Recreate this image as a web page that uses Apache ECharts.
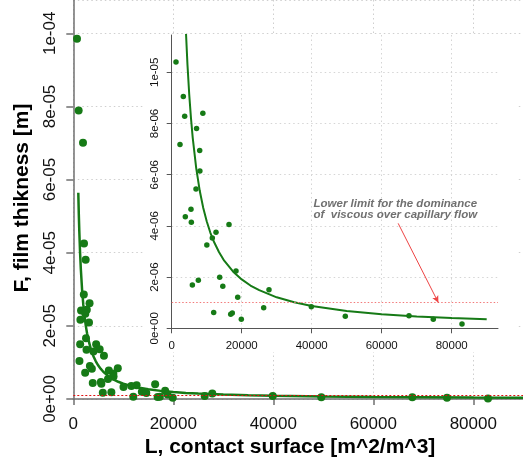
<!DOCTYPE html>
<html>
<head>
<meta charset="utf-8">
<script src="https://cdn.jsdelivr.net/npm/echarts@6/dist/echarts.min.js"></script>
<style>html,body{margin:0;padding:0;background:#fff;}#c{width:523px;height:458px;}</style>
</head>
<body>
<div id="c"></div>
<script>
// ---- data ----
// L, contact surface [m^2/m^3]
const contactSurface = [
  740, 1070, 1940, 2140, 2470, 2100, 3250, 2700, 1550, 2400, 1420, 3140, 2540, 1370, 2640, 4570, 4030, 5270, 6130,
  1230, 3320, 3710, 8900, 7100, 2370, 8000, 8050, 6940, 5510, 3890, 5610, 16370, 12660, 11600, 10040, 18370, 13710,
  7610, 5900, 14600, 27800, 18860, 39890, 26280, 12000, 17310, 16860, 49600, 67800, 19890, 74740, 82940
];
// F, film thickness [m]
const filmThickness = [
  9.85e-5, 7.89e-5, 7.01e-5, 4.25e-5, 3.81e-5, 2.86e-5, 2.62e-5, 2.44e-5, 2.42e-5, 2.33e-5, 2.17e-5, 2.09e-5, 1.66e-5, 1.50e-5, 1.35e-5, 1.50e-5, 1.30e-5, 1.36e-5, 1.18e-5,
  10.40e-6, 9.05e-6, 8.28e-6, 8.40e-6, 7.80e-6, 7.18e-6, 6.95e-6, 6.14e-6, 5.44e-6, 4.65e-6, 4.36e-6, 4.14e-6, 4.05e-6, 3.75e-6, 3.53e-6, 3.25e-6, 2.24e-6, 1.99e-6,
  1.88e-6, 1.69e-6, 1.64e-6, 1.51e-6, 1.21e-6, 0.84e-6, 0.80e-6, 0.62e-6, 0.60e-6, 0.55e-6, 0.47e-6, 0.49e-6, 0.35e-6, 0.35e-6, 0.17e-6
];
// fitted curve
const fitL = [1000, 1100, 1200, 1350, 1500, 1750, 2000, 2250, 2500, 2750, 3000, 3500, 4000, 4500, 5000, 5500, 6000, 7000, 8000, 9000, 10000, 11000, 12000, 13500, 15000, 17500, 20000, 22500, 25000, 30000, 35000, 40000, 50000, 60000, 70000, 80000, 90000];
const fitF = [56.4e-6, 50.6e-6, 45.9e-6, 40.2e-6, 35.7e-6, 30.0e-6, 25.8e-6, 22.6e-6, 20.0e-6, 18.0e-6, 16.3e-6, 13.7e-6, 11.78e-6, 10.31e-6, 9.15e-6, 8.22e-6, 7.45e-6, 6.26e-6, 5.38e-6, 4.71e-6, 4.18e-6, 3.75e-6, 3.40e-6, 2.98e-6, 2.64e-6, 2.22e-6, 1.91e-6, 1.67e-6, 1.49e-6, 1.21e-6, 1.015e-6, 0.873e-6, 0.678e-6, 0.552e-6, 0.464e-6, 0.399e-6, 0.349e-6];
const lowerLimit = 1e-6;
// annotation
const annotationLines = ['Lower limit for the dominance', 'of  viscous over capillary flow'];
const arrowFrom = [64700, 4.1e-6];
const arrowTo = [76200, 1.0e-6];
// ticks
const mainXTicks = [0, 20000, 40000, 60000, 80000];
const mainXLabels = ['0', '20000', '40000', '60000', '80000'];
const mainYTicks = [0, 2e-5, 4e-5, 6e-5, 8e-5, 1e-4];
const mainYLabels = ['0e+00', '2e-05', '4e-05', '6e-05', '8e-05', '1e-04'];
const insetXTicks = [0, 20000, 40000, 60000, 80000];
const insetXLabels = ['0', '20000', '40000', '60000', '80000'];
const insetYTicks = [0, 2e-6, 4e-6, 6e-6, 8e-6, 1e-5];
const insetYLabels = ['0e+00', '2e-06', '4e-06', '6e-06', '8e-06', '1e-05'];
const axisTitleX = 'L, contact surface [m^2/m^3]';
const axisTitleY = 'F, film thikness [m]';

// ---- build ----
const points = contactSurface.map((x, i) => [x, filmThickness[i]]);
const fitLine = fitL.map((x, i) => [x, fitF[i]]);
const FONT = '"Liberation Sans", Arial, sans-serif';
const GREEN = '#167a16';
function fmt(ticks, labels, step) {
  return function (v) {
    for (let i = 0; i < ticks.length; i++) {
      if (Math.abs(v - ticks[i]) < step * 1e-3) return labels[i];
    }
    return '';
  };
}
const dotted = { show: true, lineStyle: { color: '#cfcfcf', type: [1.5, 3], width: 1 } };

const chart = echarts.init(document.getElementById('c'), null, { renderer: 'canvas' });
chart.setOption({
  animation: false,
  backgroundColor: '#fff',
  textStyle: { fontFamily: FONT },
  grid: [
    { left: 73.3, top: 0, width: 449.7, height: 399, containLabel: false },
    { left: 171.7, top: 35, width: 326.3, height: 293.3, containLabel: false, z: 3 }
  ],
  xAxis: [
    {
      gridIndex: 0, type: 'value', min: 0, max: 89940, interval: 20000, z: 0,
      axisLine: { show: true, lineStyle: { color: '#707070', width: 1.5 } },
      axisTick: { show: true, length: 6, lineStyle: { color: '#707070', width: 1.5 } },
      axisLabel: { show: true, margin: 17, fontSize: 17, color: '#111', fontFamily: FONT, showMaxLabel: false, formatter: fmt(mainXTicks, mainXLabels, 20000) },
      splitLine: dotted
    },
    {
      gridIndex: 1, type: 'value', min: 0, max: 93230, interval: 20000, z: 3, offset: 3.4,
      axisLine: { show: true, lineStyle: { color: '#555', width: 1 } },
      axisTick: { show: true, length: 5, lineStyle: { color: '#555', width: 1 } },
      axisLabel: { show: true, margin: 8, fontSize: 11.5, color: '#111', fontFamily: FONT, showMaxLabel: false, formatter: fmt(insetXTicks, insetXLabels, 20000) },
      splitLine: { show: true, showMaxLine: false, lineStyle: { color: '#d5d5d5', type: [1.5, 3], width: 1 } }
    }
  ],
  yAxis: [
    {
      gridIndex: 0, type: 'value', min: 0, max: 1.0911e-4, interval: 2e-5, z: 0,
      axisLine: { show: true, lineStyle: { color: '#707070', width: 1.5 } },
      axisTick: { show: true, length: 7, lineStyle: { color: '#707070', width: 1.5 } },
      axisLabel: { show: true, rotate: 90, margin: 14, fontSize: 17, color: '#111', fontFamily: FONT, showMaxLabel: false, formatter: fmt(mainYTicks, mainYLabels, 2e-5) },
      splitLine: dotted
    },
    {
      gridIndex: 1, type: 'value', min: 0, max: 11.457e-6, interval: 2e-6, z: 3,
      axisLine: { show: true, lineStyle: { color: '#555', width: 1 } },
      axisTick: { show: true, length: 5, lineStyle: { color: '#555', width: 1 } },
      axisLabel: { show: true, rotate: 90, margin: 11, fontSize: 11.5, color: '#111', fontFamily: FONT, showMaxLabel: false, formatter: fmt(insetYTicks, insetYLabels, 2e-6) },
      splitLine: { show: true, showMaxLine: false, lineStyle: { color: '#d5d5d5', type: [1.5, 3], width: 1 } }
    }
  ],
  graphic: [
    { type: 'rect', z: 1, zlevel: 0, silent: true, shape: { x: 143, y: 35, width: 374, height: 317 }, style: { fill: '#fff' } },
    { type: 'text', z: 5, x: 290, y: 447, style: { text: axisTitleX, font: 'bold 21px ' + FONT, fill: '#000', textAlign: 'center', textVerticalAlign: 'middle' } },
    { type: 'text', z: 5, x: 22, y: 198, rotation: Math.PI / 2, style: { text: axisTitleY, font: 'bold 21px ' + FONT, fill: '#000', textAlign: 'center', textVerticalAlign: 'middle' } },
    { type: 'text', z: 6, x: 313.5, y: 203.5, style: { text: annotationLines[0], font: 'italic bold 11.5px ' + FONT, fill: '#707070', textAlign: 'left', textVerticalAlign: 'middle' } },
    { type: 'text', z: 6, x: 313.5, y: 215.2, style: { text: annotationLines[1], font: 'italic bold 11.5px ' + FONT, fill: '#707070', textAlign: 'left', textVerticalAlign: 'middle' } }
  ],
  series: [
    {
      type: 'scatter', xAxisIndex: 0, yAxisIndex: 0, z: 2, data: points,
      symbol: 'circle', symbolSize: 8, itemStyle: { color: GREEN, opacity: 1 },
      markLine: {
        silent: true, precision: 12, symbol: ['none', 'none'], label: { show: false },
        lineStyle: { color: '#e01010', type: [2, 2], width: 1, opacity: 1 },
        data: [{ yAxis: lowerLimit }]
      }
    },
    {
      type: 'line', xAxisIndex: 0, yAxisIndex: 0, z: 2, data: fitLine, showSymbol: false,
      smooth: false, lineStyle: { color: GREEN, width: 2.5 }, clip: true
    },
    {
      type: 'scatter', xAxisIndex: 1, yAxisIndex: 1, z: 4, data: points, clip: true,
      symbol: 'circle', symbolSize: 5.5, itemStyle: { color: GREEN, opacity: 1 },
      markLine: {
        silent: true, precision: 12, symbol: ['none', 'none'], label: { show: false },
        lineStyle: { color: '#f27a7a', type: [1.5, 2], width: 1, opacity: 1 },
        data: [{ yAxis: lowerLimit }]
      }
    },
    {
      type: 'line', xAxisIndex: 1, yAxisIndex: 1, z: 4, data: fitLine, showSymbol: false,
      smooth: false, lineStyle: { color: GREEN, width: 2 }, clip: true,
      markLine: {
        silent: true, precision: 12, symbol: ['none', 'arrow'], symbolSize: [5, 7], label: { show: false },
        lineStyle: { color: '#ee4444', type: 'solid', width: 1, opacity: 1 },
        data: [[{ coord: arrowFrom }, { coord: arrowTo }]]
      }
    }
  ]
});
</script>
</body>
</html>
